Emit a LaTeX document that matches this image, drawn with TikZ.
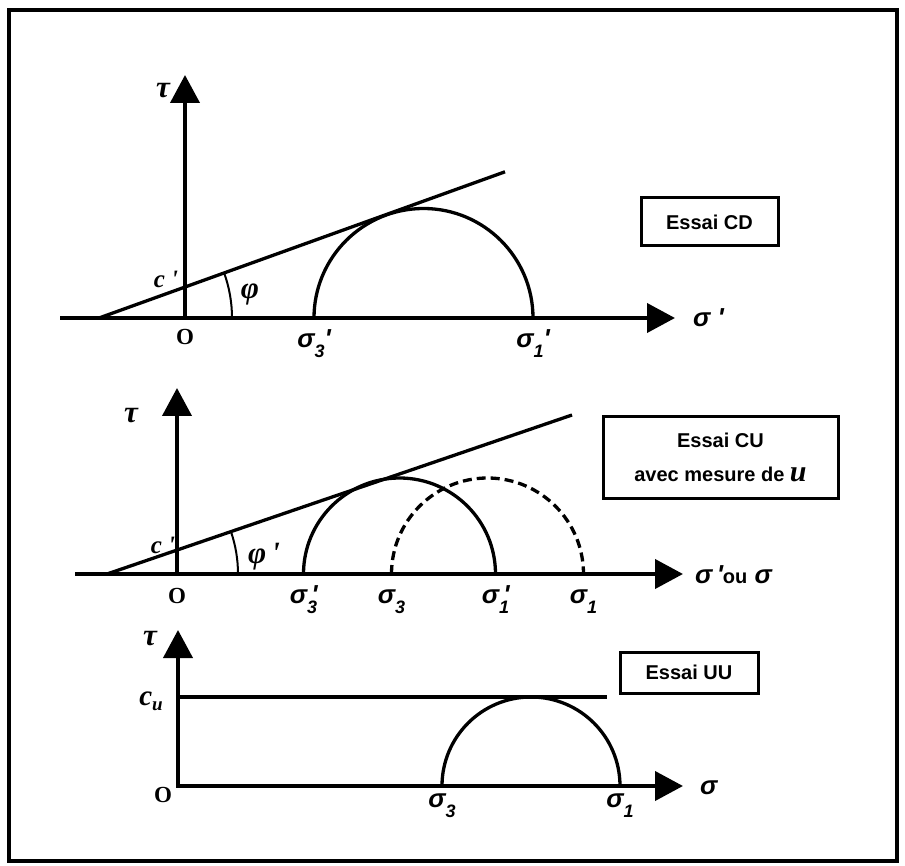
\documentclass[tikz,border=0pt]{standalone}
\usepackage{fontspec}
\setmainfont{Liberation Serif}
\newfontfamily\sansf{Liberation Sans}
\newfontfamily\serf{Liberation Serif}
\usetikzlibrary{arrows.meta}
% sigma with index (prime after / prime above)
\newcommand{\sgp}[1]{σ\raisebox{-10pt}{\fontsize{18}{18}\selectfont #1}}
\newcommand{\sgq}[1]{σ\rlap{\,'}\raisebox{-10pt}{\fontsize{18}{18}\selectfont #1}}

\begin{document}
\begin{tikzpicture}[x=1pt, y=-1pt,
  axis/.style={line width=4pt, -{Triangle[length=28pt, width=29pt]}},
  curve/.style={line width=3.3pt},
  tag/.style={draw, line width=3pt, font=\fontsize{20}{34}\sansf\bfseries, inner sep=0pt, align=center},
  sglab/.style={anchor=base, inner sep=0pt, font=\fontsize{26}{26}\sansf\bfseries\itshape},
  serlab/.style={anchor=base, inner sep=0pt, font=\fontsize{31}{31}\serf\bfseries\itshape},
  clab/.style={serlab, font=\fontsize{25}{25}\serf\bfseries\itshape},
  olab/.style={anchor=base, inner sep=0pt, font=\fontsize{23}{23}\serf\bfseries},
]
\useasboundingbox (0,0) rectangle (905,866);
\draw[line width=4.5pt] (9,10) rectangle (897,861);

% Essai CD
\coordinate (O1) at (185,318);
\coordinate (T1) at (185,75);
\coordinate (L1) at (60,318);
\coordinate (R1) at (675,318);
\coordinate (A1) at (99,318);
\coordinate (B1) at (505,171.8);
\coordinate (P1) at (232,318);
\coordinate (S31) at (314,318);
\draw[axis] (L1) -- (R1);
\draw[axis] (O1) -- (T1);
\draw[curve] (A1) -- (B1);
\draw[line width=2pt] (P1) arc[start angle=0, end angle=-19.8, radius=133];
\draw[curve] (S31) arc[start angle=180, end angle=360, radius=109.5];
\node[serlab] (tau1) at (163,98) {τ};
\node[clab] (c1) at (166,288) {c '};
\node[serlab] (phi1) at (250,299) {φ};
\node[olab] (o1) at (185,345) {O};
\node[sglab] (s3a) at (314,348) {\sgp{3}'};
\node[sglab] (s1a) at (533,348) {\sgp{1}'};
\node[sglab, anchor=base west] (ax1) at (693,327) {σ\ '};
\node[tag, minimum width=137pt, minimum height=48pt] (cd) at (709.5,222) {Essai CD};

% Essai CU
\coordinate (O2) at (177,574);
\coordinate (T2) at (177,388);
\coordinate (L2) at (75,574);
\coordinate (R2) at (683,574);
\coordinate (A2) at (107,574);
\coordinate (B2) at (572,415);
\coordinate (P2) at (238,574);
\coordinate (S32) at (303.5,574);
\coordinate (S33) at (391.5,574);
\draw[axis] (L2) -- (R2);
\draw[axis] (O2) -- (T2);
\draw[curve] (A2) -- (B2);
\draw[line width=2pt] (P2) arc[start angle=0, end angle=-18.9, radius=131];
\draw[curve] (S32) arc[start angle=180, end angle=360, radius=96];
\draw[curve, dash pattern=on 9pt off 5pt] (S33) arc[start angle=180, end angle=360, radius=96];
\node[serlab] (tau2) at (131,422) {τ};
\node[clab] (c2) at (163,553) {c '};
\node[serlab] (phi2) at (264,563) {φ\,'};
\node[olab] (o2) at (177,603) {O};
\node[sglab] (s3b) at (303.5,603) {\sgq{3}};
\node[sglab] (s3c) at (391.5,603) {\sgp{3}};
\node[sglab] (s1b) at (495.5,603) {\sgq{1}};
\node[sglab] (s1c) at (583.5,603) {\sgp{1}};
\node[sglab, anchor=base west] (ax2) at (695,583) {σ\,'{\fontsize{20}{20}\selectfont\upshape ou} σ};
\node[tag, minimum width=235pt, minimum height=81pt] (cu) at (720.5,457.5)
  {Essai CU\\avec mesure de {\fontsize{30}{30}\serf\bfseries\itshape u}};

% Essai UU
\coordinate (O3) at (178,786);
\coordinate (T3) at (178,630);
\coordinate (L3) at (176,786);
\coordinate (R3) at (683,786);
\coordinate (C3) at (178,697);
\coordinate (D3) at (607,697);
\coordinate (S34) at (442,786);
\draw[axis] (L3) -- (R3);
\draw[axis] (O3) -- (T3);
\draw[curve] (C3) -- (D3);
\draw[curve] (S34) arc[start angle=180, end angle=360, radius=89];
\node[serlab] (tau3) at (150,645) {τ};
\node[serlab, font=\fontsize{29}{29}\serf\bfseries\itshape] (c3) at (151,705) {c\raisebox{-5pt}{\fontsize{19}{19}\selectfont u}};
\node[olab] (o3) at (163,802) {O};
\node[sglab] (s3d) at (442,807) {\sgp{3}};
\node[sglab] (s1d) at (620,807) {\sgp{1}};
\node[sglab, anchor=base west] (ax3) at (700,794) {σ};
\node[tag, minimum width=138pt, minimum height=41pt] (uu) at (689,672.5) {Essai UU};
\end{tikzpicture}
\end{document}
